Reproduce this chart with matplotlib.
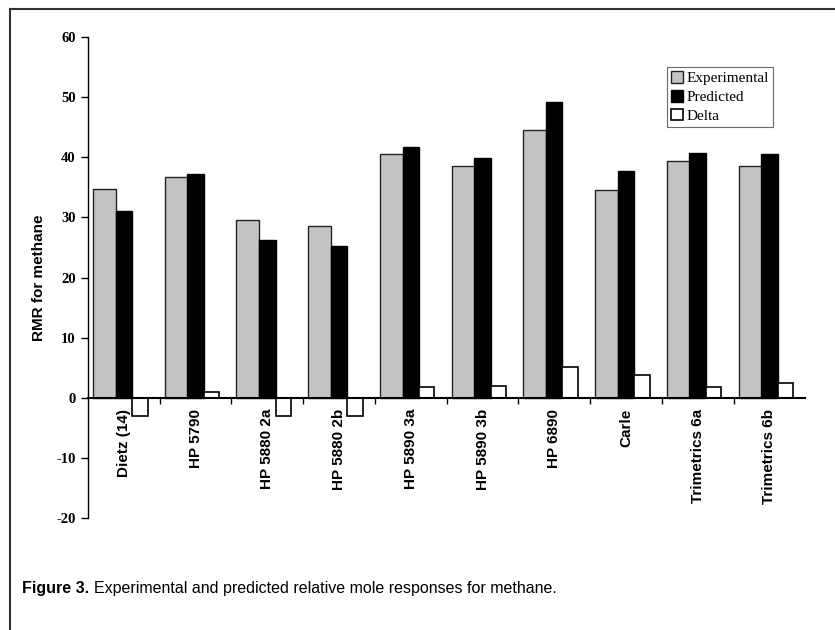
import numpy as np
import matplotlib.pyplot as plt
from matplotlib.lines import Line2D

plt.rcParams['axes.unicode_minus'] = False

# data
categories = ['Dietz (14)', 'HP 5790', 'HP 5880 2a', 'HP 5880 2b', 'HP 5890 3a',
              'HP 5890 3b', 'HP 6890', 'Carle', 'Trimetrics 6a', 'Trimetrics 6b']
experimental = [34.7, 36.8, 29.6, 28.5, 40.5, 38.5, 44.5, 34.5, 39.4, 38.5]
predicted = [31.0, 37.3, 26.3, 25.2, 41.8, 39.9, 49.2, 37.8, 40.8, 40.6]
delta = [-3.1, 1.0, -3.0, -3.0, 1.7, 1.9, 5.1, 3.8, 1.8, 2.5]

fig = plt.figure(figsize=(8.35, 6.3), dpi=100)
ax = fig.add_axes([0.1054, 0.178, 0.859, 0.763])

x = np.arange(len(categories))
# bar edges inside each category (category spans i-0.5 .. i+0.5)
ax.bar(x - 0.43, experimental, width=0.32, align='edge', color='#c4c4c4',
       edgecolor='#222222', linewidth=1.0, label='Experimental')
ax.bar(x - 0.115, predicted, width=0.23, align='edge', color='black',
       edgecolor='black', linewidth=1.0, label='Predicted')
ax.bar(x + 0.115, delta, width=0.215, align='edge', color='white',
       edgecolor='black', linewidth=1.2, label='Delta')

ax.set_xlim(-0.5, len(categories) - 0.5)
ax.set_ylim(-20, 60)

for s in ['top', 'right']:
    ax.spines[s].set_visible(False)
ax.spines['bottom'].set_position(('data', 0))
ax.spines['bottom'].set_linewidth(1.5)
ax.spines['left'].set_linewidth(1.0)

ax.set_yticks(np.arange(-20, 61, 10))
ax.tick_params(axis='y', direction='out', length=5, width=1, pad=4)
for lab in ax.get_yticklabels():
    lab.set_fontfamily('Liberation Serif')
    lab.set_fontweight('bold')
    lab.set_fontsize(10.5)

# boundaries as major ticks, names as minor ticks at the centres
ax.set_xticks(np.arange(0.5, len(categories) - 0.5, 1.0))
ax.set_xticklabels([])
ax.tick_params(axis='x', which='major', direction='out', length=4, width=1)
ax.set_xticks(x, minor=True)
ax.set_xticklabels(categories, minor=True, rotation=90, va='top', ha='center',
                   fontfamily='Liberation Sans', fontweight='bold', fontsize=11)
ax.tick_params(axis='x', which='minor', length=0, pad=8)

ax.set_ylabel('RMR for methane', fontfamily='Liberation Sans', fontweight='bold',
              fontsize=11)
ax.yaxis.set_label_coords(-0.058, 0.5)

leg = ax.legend(loc='upper left', bbox_to_anchor=(0.790, 0.905), bbox_transform=fig.transFigure,
                prop={'family': 'Liberation Serif', 'size': 11},
                handlelength=0.8, handleheight=0.8, handletextpad=0.2,
                labelspacing=0.3, borderpad=0.25, fancybox=False, frameon=True)
leg.get_frame().set_edgecolor('#444444')
leg.get_frame().set_linewidth(0.8)

# page border (top and left)
fig.add_artist(Line2D([0.012, 1.0], [0.986, 0.986], transform=fig.transFigure,
                      color='#333333', linewidth=1.5))
fig.add_artist(Line2D([0.012, 0.012], [0.0, 0.986], transform=fig.transFigure,
                      color='#333333', linewidth=1.5))

# caption: bold lead-in, then the rest placed right after it
lead = fig.text(0.026, 0.058, 'Figure 3.', fontfamily='Liberation Sans',
                fontweight='bold', fontsize=11.5)
fig.canvas.draw()
bb = lead.get_window_extent()
x_rest = (bb.x1 + 5) / fig.bbox.width
fig.text(x_rest, 0.058, 'Experimental and predicted relative mole responses for methane.',
         fontfamily='Liberation Sans', fontsize=11.5)

fig.savefig('out.png', dpi=100)
